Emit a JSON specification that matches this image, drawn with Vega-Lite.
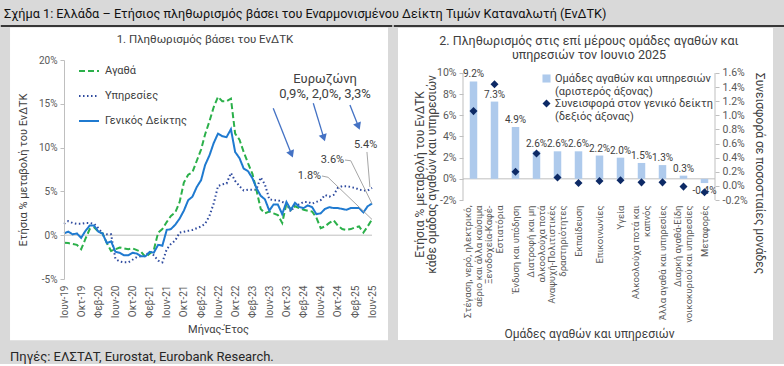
{
"$schema": "https://vega.github.io/schema/vega-lite/v6.json",
"background": "#d9d9d9",
"padding": {"left": 0, "top": 8, "right": 0, "bottom": 0},
"spacing": 0,
"resolve": {"scale": {"color": "independent", "shape": "independent", "strokeDash": "independent"}, "legend": {"color": "independent", "shape": "independent", "strokeDash": "independent"}},
"title": {"text": "Σχήμα 1: Ελλάδα – Ετήσιος πληθωρισμός βάσει του Εναρμονισμένου Δείκτη Τιμών Καταναλωτή (ΕνΔΤΚ)", "anchor": "start", "fontSize": 12.7, "fontWeight": "normal", "color": "#111111", "offset": 4.5, "dx": 4},
"config": {
  "font": "Roboto",
  "view": {"stroke": null},
  "axis": {"grid": false, "labelOverlap": false, "labelSeparation": 0, "domainColor": "#bfbfbf", "tickColor": "#bfbfbf", "labelColor": "#595959", "titleColor": "#404040", "labelFontSize": 10, "titleFontWeight": "normal", "titleFontSize": 11},
  "legend": {"labelColor": "#404040"},
  "locale": {"number": {"decimal": ".", "thousands": ",", "grouping": [3], "currency": ["", ""], "minus": "-"}}
},
"datasets": {
"hicp": [
{"date":"2019-06","series":"Υπηρεσίες","value":1.3},{"date":"2019-07","series":"Υπηρεσίες","value":1.6},{"date":"2019-08","series":"Υπηρεσίες","value":1.4},{"date":"2019-09","series":"Υπηρεσίες","value":1.3},{"date":"2019-10","series":"Υπηρεσίες","value":1.3},{"date":"2019-11","series":"Υπηρεσίες","value":1.4},{"date":"2019-12","series":"Υπηρεσίες","value":1.4},
{"date":"2020-01","series":"Υπηρεσίες","value":1.3},{"date":"2020-02","series":"Υπηρεσίες","value":0.8},{"date":"2020-03","series":"Υπηρεσίες","value":0.2},{"date":"2020-04","series":"Υπηρεσίες","value":0.1},{"date":"2020-05","series":"Υπηρεσίες","value":0.1},{"date":"2020-06","series":"Υπηρεσίες","value":-2.7},{"date":"2020-07","series":"Υπηρεσίες","value":-3.0},{"date":"2020-08","series":"Υπηρεσίες","value":-3.1},{"date":"2020-09","series":"Υπηρεσίες","value":-3.1},{"date":"2020-10","series":"Υπηρεσίες","value":-2.8},{"date":"2020-11","series":"Υπηρεσίες","value":-2.5},{"date":"2020-12","series":"Υπηρεσίες","value":-2.4},
{"date":"2021-01","series":"Υπηρεσίες","value":-2.3},{"date":"2021-02","series":"Υπηρεσίες","value":-1.9},{"date":"2021-03","series":"Υπηρεσίες","value":-2.3},{"date":"2021-04","series":"Υπηρεσίες","value":-2.9},{"date":"2021-05","series":"Υπηρεσίες","value":-3.1},{"date":"2021-06","series":"Υπηρεσίες","value":-1.6},{"date":"2021-07","series":"Υπηρεσίες","value":-1.0},{"date":"2021-08","series":"Υπηρεσίες","value":-0.6},{"date":"2021-09","series":"Υπηρεσίες","value":0.3},{"date":"2021-10","series":"Υπηρεσίες","value":0.4},{"date":"2021-11","series":"Υπηρεσίες","value":0.5},{"date":"2021-12","series":"Υπηρεσίες","value":0.6},
{"date":"2022-01","series":"Υπηρεσίες","value":0.8},{"date":"2022-02","series":"Υπηρεσίες","value":1.0},{"date":"2022-03","series":"Υπηρεσίες","value":1.3},{"date":"2022-04","series":"Υπηρεσίες","value":2.2},{"date":"2022-05","series":"Υπηρεσίες","value":3.6},{"date":"2022-06","series":"Υπηρεσίες","value":5.6},{"date":"2022-07","series":"Υπηρεσίες","value":5.8},{"date":"2022-08","series":"Υπηρεσίες","value":5.9},{"date":"2022-09","series":"Υπηρεσίες","value":7.1},{"date":"2022-10","series":"Υπηρεσίες","value":6.2},{"date":"2022-11","series":"Υπηρεσίες","value":5.6},{"date":"2022-12","series":"Υπηρεσίες","value":5.1},
{"date":"2023-01","series":"Υπηρεσίες","value":5.2},{"date":"2023-02","series":"Υπηρεσίες","value":5.2},{"date":"2023-03","series":"Υπηρεσίες","value":5.2},{"date":"2023-04","series":"Υπηρεσίες","value":6.6},{"date":"2023-05","series":"Υπηρεσίες","value":5.8},{"date":"2023-06","series":"Υπηρεσίες","value":4.1},{"date":"2023-07","series":"Υπηρεσίες","value":4.0},{"date":"2023-08","series":"Υπηρεσίες","value":4.0},{"date":"2023-09","series":"Υπηρεσίες","value":3.8},{"date":"2023-10","series":"Υπηρεσίες","value":3.6},{"date":"2023-11","series":"Υπηρεσίες","value":2.7},{"date":"2023-12","series":"Υπηρεσίες","value":3.4},
{"date":"2024-01","series":"Υπηρεσίες","value":3.5},{"date":"2024-02","series":"Υπηρεσίες","value":3.8},{"date":"2024-03","series":"Υπηρεσίες","value":3.8},{"date":"2024-04","series":"Υπηρεσίες","value":3.6},{"date":"2024-05","series":"Υπηρεσίες","value":3.8},{"date":"2024-06","series":"Υπηρεσίες","value":4.0},{"date":"2024-07","series":"Υπηρεσίες","value":4.6},{"date":"2024-08","series":"Υπηρεσίες","value":4.4},{"date":"2024-09","series":"Υπηρεσίες","value":4.6},{"date":"2024-10","series":"Υπηρεσίες","value":5.4},{"date":"2024-11","series":"Υπηρεσίες","value":5.6},{"date":"2024-12","series":"Υπηρεσίες","value":5.6},
{"date":"2025-01","series":"Υπηρεσίες","value":5.5},{"date":"2025-02","series":"Υπηρεσίες","value":5.4},{"date":"2025-03","series":"Υπηρεσίες","value":5.2},{"date":"2025-04","series":"Υπηρεσίες","value":5.1},{"date":"2025-05","series":"Υπηρεσίες","value":5.1},{"date":"2025-06","series":"Υπηρεσίες","value":5.4},
{"date":"2019-06","series":"Αγαθά","value":-0.85},{"date":"2019-07","series":"Αγαθά","value":-0.9},{"date":"2019-08","series":"Αγαθά","value":-1.0},{"date":"2019-09","series":"Αγαθά","value":-1.1},{"date":"2019-10","series":"Αγαθά","value":-1.6},{"date":"2019-11","series":"Αγαθά","value":-0.4},{"date":"2019-12","series":"Αγαθά","value":0.7},
{"date":"2020-01","series":"Αγαθά","value":0.9},{"date":"2020-02","series":"Αγαθά","value":0.4},{"date":"2020-03","series":"Αγαθά","value":0.2},{"date":"2020-04","series":"Αγαθά","value":-0.9},{"date":"2020-05","series":"Αγαθά","value":-1.8},{"date":"2020-06","series":"Αγαθά","value":-1.6},{"date":"2020-07","series":"Αγαθά","value":-1.4},{"date":"2020-08","series":"Αγαθά","value":-1.5},{"date":"2020-09","series":"Αγαθά","value":-1.6},{"date":"2020-10","series":"Αγαθά","value":-1.5},{"date":"2020-11","series":"Αγαθά","value":-1.7},{"date":"2020-12","series":"Αγαθά","value":-1.9},
{"date":"2021-01","series":"Αγαθά","value":-2.5},{"date":"2021-02","series":"Αγαθά","value":-2.1},{"date":"2021-03","series":"Αγαθά","value":-1.7},{"date":"2021-04","series":"Αγαθά","value":0.3},{"date":"2021-05","series":"Αγαθά","value":0.7},{"date":"2021-06","series":"Αγαθά","value":1.5},{"date":"2021-07","series":"Αγαθά","value":2.2},{"date":"2021-08","series":"Αγαθά","value":2.6},{"date":"2021-09","series":"Αγαθά","value":3.8},{"date":"2021-10","series":"Αγαθά","value":6.0},{"date":"2021-11","series":"Αγαθά","value":6.9},{"date":"2021-12","series":"Αγαθά","value":7.2},
{"date":"2022-01","series":"Αγαθά","value":8.5},{"date":"2022-02","series":"Αγαθά","value":9.8},{"date":"2022-03","series":"Αγαθά","value":11.5},{"date":"2022-04","series":"Αγαθά","value":13.0},{"date":"2022-05","series":"Αγαθά","value":14.6},{"date":"2022-06","series":"Αγαθά","value":15.8},{"date":"2022-07","series":"Αγαθά","value":15.3},{"date":"2022-08","series":"Αγαθά","value":15.3},{"date":"2022-09","series":"Αγαθά","value":15.6},{"date":"2022-10","series":"Αγαθά","value":11.6},{"date":"2022-11","series":"Αγαθά","value":10.9},{"date":"2022-12","series":"Αγαθά","value":9.5},
{"date":"2023-01","series":"Αγαθά","value":8.2},{"date":"2023-02","series":"Αγαθά","value":7.0},{"date":"2023-03","series":"Αγαθά","value":5.2},{"date":"2023-04","series":"Αγαθά","value":3.0},{"date":"2023-05","series":"Αγαθά","value":2.5},{"date":"2023-06","series":"Αγαθά","value":2.7},{"date":"2023-07","series":"Αγαθά","value":2.5},{"date":"2023-08","series":"Αγαθά","value":2.3},{"date":"2023-09","series":"Αγαθά","value":1.4},{"date":"2023-10","series":"Αγαθά","value":3.6},{"date":"2023-11","series":"Αγαθά","value":2.9},{"date":"2023-12","series":"Αγαθά","value":3.3},
{"date":"2024-01","series":"Αγαθά","value":3.1},{"date":"2024-02","series":"Αγαθά","value":2.9},{"date":"2024-03","series":"Αγαθά","value":2.8},{"date":"2024-04","series":"Αγαθά","value":2.7},{"date":"2024-05","series":"Αγαθά","value":2.0},{"date":"2024-06","series":"Αγαθά","value":0.8},{"date":"2024-07","series":"Αγαθά","value":1.0},{"date":"2024-08","series":"Αγαθά","value":1.4},{"date":"2024-09","series":"Αγαθά","value":1.7},{"date":"2024-10","series":"Αγαθά","value":1.1},{"date":"2024-11","series":"Αγαθά","value":0.7},{"date":"2024-12","series":"Αγαθά","value":0.6},
{"date":"2025-01","series":"Αγαθά","value":0.7},{"date":"2025-02","series":"Αγαθά","value":0.9},{"date":"2025-03","series":"Αγαθά","value":1.0},{"date":"2025-04","series":"Αγαθά","value":0.3},{"date":"2025-05","series":"Αγαθά","value":1.0},{"date":"2025-06","series":"Αγαθά","value":1.8},
{"date":"2019-06","series":"Γενικός Δείκτης","value":0.2},{"date":"2019-07","series":"Γενικός Δείκτης","value":0.4},{"date":"2019-08","series":"Γενικός Δείκτης","value":0.1},{"date":"2019-09","series":"Γενικός Δείκτης","value":0.2},{"date":"2019-10","series":"Γενικός Δείκτης","value":-0.3},{"date":"2019-11","series":"Γενικός Δείκτης","value":0.5},{"date":"2019-12","series":"Γενικός Δείκτης","value":1.1},
{"date":"2020-01","series":"Γενικός Δείκτης","value":1.1},{"date":"2020-02","series":"Γενικός Δείκτης","value":0.4},{"date":"2020-03","series":"Γενικός Δείκτης","value":0.2},{"date":"2020-04","series":"Γενικός Δείκτης","value":-0.9},{"date":"2020-05","series":"Γενικός Δείκτης","value":-0.7},{"date":"2020-06","series":"Γενικός Δείκτης","value":-1.9},{"date":"2020-07","series":"Γενικός Δείκτης","value":-2.0},{"date":"2020-08","series":"Γενικός Δείκτης","value":-2.3},{"date":"2020-09","series":"Γενικός Δείκτης","value":-2.3},{"date":"2020-10","series":"Γενικός Δείκτης","value":-2.0},{"date":"2020-11","series":"Γενικός Δείκτης","value":-2.1},{"date":"2020-12","series":"Γενικός Δείκτης","value":-2.4},
{"date":"2021-01","series":"Γενικός Δείκτης","value":-2.4},{"date":"2021-02","series":"Γενικός Δείκτης","value":-1.9},{"date":"2021-03","series":"Γενικός Δείκτης","value":-2.0},{"date":"2021-04","series":"Γενικός Δείκτης","value":-1.1},{"date":"2021-05","series":"Γενικός Δείκτης","value":-1.2},{"date":"2021-06","series":"Γενικός Δείκτης","value":0.6},{"date":"2021-07","series":"Γενικός Δείκτης","value":0.7},{"date":"2021-08","series":"Γενικός Δείκτης","value":1.2},{"date":"2021-09","series":"Γενικός Δείκτης","value":1.9},{"date":"2021-10","series":"Γενικός Δείκτης","value":2.8},{"date":"2021-11","series":"Γενικός Δείκτης","value":4.0},{"date":"2021-12","series":"Γενικός Δείκτης","value":4.4},
{"date":"2022-01","series":"Γενικός Δείκτης","value":5.5},{"date":"2022-02","series":"Γενικός Δείκτης","value":6.3},{"date":"2022-03","series":"Γενικός Δείκτης","value":8.0},{"date":"2022-04","series":"Γενικός Δείκτης","value":9.1},{"date":"2022-05","series":"Γενικός Δείκτης","value":10.5},{"date":"2022-06","series":"Γενικός Δείκτης","value":11.6},{"date":"2022-07","series":"Γενικός Δείκτης","value":11.3},{"date":"2022-08","series":"Γενικός Δείκτης","value":11.2},{"date":"2022-09","series":"Γενικός Δείκτης","value":12.1},{"date":"2022-10","series":"Γενικός Δείκτης","value":9.5},{"date":"2022-11","series":"Γενικός Δείκτης","value":8.8},{"date":"2022-12","series":"Γενικός Δείκτης","value":7.6},
{"date":"2023-01","series":"Γενικός Δείκτης","value":7.3},{"date":"2023-02","series":"Γενικός Δείκτης","value":6.5},{"date":"2023-03","series":"Γενικός Δείκτης","value":5.4},{"date":"2023-04","series":"Γενικός Δείκτης","value":4.5},{"date":"2023-05","series":"Γενικός Δείκτης","value":4.1},{"date":"2023-06","series":"Γενικός Δείκτης","value":2.8},{"date":"2023-07","series":"Γενικός Δείκτης","value":3.5},{"date":"2023-08","series":"Γενικός Δείκτης","value":3.5},{"date":"2023-09","series":"Γενικός Δείκτης","value":2.4},{"date":"2023-10","series":"Γενικός Δείκτης","value":3.8},{"date":"2023-11","series":"Γενικός Δείκτης","value":2.9},{"date":"2023-12","series":"Γενικός Δείκτης","value":3.7},
{"date":"2024-01","series":"Γενικός Δείκτης","value":3.2},{"date":"2024-02","series":"Γενικός Δείκτης","value":3.1},{"date":"2024-03","series":"Γενικός Δείκτης","value":3.4},{"date":"2024-04","series":"Γενικός Δείκτης","value":3.2},{"date":"2024-05","series":"Γενικός Δείκτης","value":2.4},{"date":"2024-06","series":"Γενικός Δείκτης","value":2.5},{"date":"2024-07","series":"Γενικός Δείκτης","value":3.0},{"date":"2024-08","series":"Γενικός Δείκτης","value":3.2},{"date":"2024-09","series":"Γενικός Δείκτης","value":3.1},{"date":"2024-10","series":"Γενικός Δείκτης","value":3.1},{"date":"2024-11","series":"Γενικός Δείκτης","value":3.0},{"date":"2024-12","series":"Γενικός Δείκτης","value":2.9},
{"date":"2025-01","series":"Γενικός Δείκτης","value":3.1},{"date":"2025-02","series":"Γενικός Δείκτης","value":3.1},{"date":"2025-03","series":"Γενικός Δείκτης","value":3.1},{"date":"2025-04","series":"Γενικός Δείκτης","value":2.6},{"date":"2025-05","series":"Γενικός Δείκτης","value":3.3},{"date":"2025-06","series":"Γενικός Δείκτης","value":3.6}
],
"groups": [
{"group":"Στέγαση, νερό, ηλεκτρικό,|αέριο και άλλα καύσιμα","change":0.092,"contribution":0.0106},
{"group":"Ξενοδοχεία-Καφέ-|Εστιατόρια","change":0.073,"contribution":0.0144},
{"group":"Ένδυση και υπόδηση","change":0.049,"contribution":0.0020},
{"group":"Διατροφή και μη|αλκοολούχα ποτά","change":0.026,"contribution":0.0046},
{"group":"Αναψυχή-Πολιτιστικές|δραστηριότητες","change":0.026,"contribution":0.0012},
{"group":"Εκπαίδευση","change":0.026,"contribution":0.0004},
{"group":"Επικοινωνίες","change":0.022,"contribution":0.0007},
{"group":"Υγεία","change":0.020,"contribution":0.0008},
{"group":"Αλκοολούχα ποτά και|καπνός","change":0.015,"contribution":0.0005},
{"group":"Άλλα αγαθά και υπηρεσίες","change":0.013,"contribution":0.0005},
{"group":"Διαρκή αγαθά-Είδη|νοικοκυριού και υπηρεσίες","change":0.003,"contribution":-0.0001},
{"group":"Μεταφορές","change":-0.004,"contribution":-0.0009}
]
},
"hconcat": [
{
 "width": 308, "height": 219,
 "layer": [
  {"data": {"values": [{}]}, "mark": {"type": "rect", "color": "white"},
   "encoding": {"x": {"datum": 1526169600000, "type": "temporal"}, "x2": {"datum": 1758585600000}, "y": {"datum": 23.7, "type": "quantitative"}, "y2": {"datum": -12.0}}},
  {"data": {"values": [{}]}, "mark": {"type": "rule", "color": "black", "strokeWidth": 1.5},
   "encoding": {"x": {"datum": 1520467200000, "type": "temporal"}, "x2": {"datum": 1761177600000}, "y": {"datum": 23.88, "type": "quantitative"}}},
  {"data": {"values": [{}]}, "mark": {"type": "rule", "color": "#bfbfbf", "strokeWidth": 1},
   "encoding": {"y": {"datum": 0, "type": "quantitative"}}},
  {"data": {"name": "hicp"}, "mark": {"type": "line", "strokeWidth": 2},
   "encoding": {
    "x": {"field": "date", "type": "temporal", "scale": {"type": "utc", "domain": [1559347200000, 1748736000000], "nice": false},
      "axis": {"zindex": 1, "title": "Μήνας-Έτος", "tickCount": 40, "values": ["2019-06-01","2019-10-01","2020-02-01","2020-06-01","2020-10-01","2021-02-01","2021-06-01","2021-10-01","2022-02-01","2022-06-01","2022-10-01","2023-02-01","2023-06-01","2023-10-01","2024-02-01","2024-06-01","2024-10-01","2025-02-01","2025-06-01"],
        "labelExpr": "(utcmonth(datum.value) == 5 ? 'Ιουν' : utcmonth(datum.value) == 9 ? 'Οκτ' : 'Φεβ') + '-' + utcFormat(datum.value, '%y')",
        "labelAngle": -90, "labelAlign": "right", "labelBaseline": "middle", "domain": false, "ticks": false, "labelPadding": 6, "labelFlush": false, "labelOverlap": false, "labelSeparation": 0, "titlePadding": 6}},
    "y": {"field": "value", "type": "quantitative", "scale": {"domain": [-5, 20], "nice": false, "zero": false},
      "axis": {"zindex": 1, "title": "Ετήσια % μεταβολή του ΕνΔΤΚ", "tickCount": 20, "values": [-5, 0, 5, 10, 15, 20], "labelExpr": "datum.value + '%'", "tickSize": 4, "labelPadding": 3, "titlePadding": 10}},
    "color": {"field": "series", "type": "nominal", "scale": {"domain": ["Αγαθά", "Υπηρεσίες", "Γενικός Δείκτης"], "range": ["#2bb04a", "#2e4a9e", "#1f7ad0"]},
      "legend": {"title": null, "orient": "none", "legendX": 14, "legendY": 0, "symbolType": "stroke", "symbolStrokeWidth": 2, "symbolSize": 400, "labelFontSize": 11, "rowPadding": 9, "labelOffset": 5}},
    "strokeDash": {"field": "series", "type": "nominal", "scale": {"domain": ["Αγαθά", "Υπηρεσίες", "Γενικός Δείκτης"], "range": [[6, 3], [1.5, 2.5], [1, 0]]},
      "legend": {"title": null, "orient": "none", "legendX": 14, "legendY": 0, "symbolType": "stroke", "symbolStrokeWidth": 2, "symbolSize": 400, "labelFontSize": 11, "rowPadding": 9, "labelOffset": 5}}
   }},
  {"data": {"values": [{}]}, "mark": {"type": "text", "text": "1. Πληθωρισμός βάσει του ΕνΔΤΚ", "fontSize": 11.5, "color": "#404040", "align": "center", "baseline": "middle"},
   "encoding": {"x": {"datum": 1646006400000, "type": "temporal"}, "y": {"datum": 22.28, "type": "quantitative"}}},
  {"data": {"values": [{}]}, "mark": {"type": "text", "text": ["Ευρωζώνη", "0,9%, 2,0%, 3,3%"], "fontSize": 13, "lineHeight": 15, "color": "#404040", "align": "center", "baseline": "top"},
   "encoding": {"x": {"datum": 1719878400000, "type": "temporal"}, "y": {"datum": 18.5, "type": "quantitative"}}},
  {"data": {"values": [{}]}, "mark": {"type": "rule", "color": "#4472c4", "strokeWidth": 1.3},
   "encoding": {"x": {"datum": 1687996800000, "type": "temporal"}, "x2": {"datum": 1699228800000}, "y": {"datum": 14.49, "type": "quantitative"}, "y2": {"datum": 9.24}}},
  {"data": {"values": [{}]}, "mark": {"type": "point", "shape": "triangle-down", "filled": true, "color": "#4472c4", "opacity": 1, "size": 70, "angle": -22},
   "encoding": {"x": {"datum": 1699228800000, "type": "temporal"}, "y": {"datum": 9.24, "type": "quantitative"}}},
  {"data": {"values": [{}]}, "mark": {"type": "rule", "color": "#4472c4", "strokeWidth": 1.3},
   "encoding": {"x": {"datum": 1712620800000, "type": "temporal"}, "x2": {"datum": 1719100800000}, "y": {"datum": 15.06, "type": "quantitative"}, "y2": {"datum": 11.11}}},
  {"data": {"values": [{}]}, "mark": {"type": "point", "shape": "triangle-down", "filled": true, "color": "#4472c4", "opacity": 1, "size": 70, "angle": -18},
   "encoding": {"x": {"datum": 1719100800000, "type": "temporal"}, "y": {"datum": 11.11, "type": "quantitative"}}},
  {"data": {"values": [{}]}, "mark": {"type": "rule", "color": "#4472c4", "strokeWidth": 1.3},
   "encoding": {"x": {"datum": 1735171200000, "type": "temporal"}, "x2": {"datum": 1740355200000}, "y": {"datum": 14.86, "type": "quantitative"}, "y2": {"datum": 12.43}}},
  {"data": {"values": [{}]}, "mark": {"type": "point", "shape": "triangle-down", "filled": true, "color": "#4472c4", "opacity": 1, "size": 70, "angle": -22},
   "encoding": {"x": {"datum": 1740355200000, "type": "temporal"}, "y": {"datum": 12.43, "type": "quantitative"}}},
  {"data": {"values": [{}]}, "mark": {"type": "rule", "color": "#a6a6a6", "strokeWidth": 1},
   "encoding": {"x": {"datum": 1717977600000, "type": "temporal"}, "x2": {"datum": 1721692800000}, "y": {"datum": 6.76, "type": "quantitative"}, "y2": {"datum": 6.61}}},
  {"data": {"values": [{}]}, "mark": {"type": "rule", "color": "#a6a6a6", "strokeWidth": 1},
   "encoding": {"x": {"datum": 1721692800000, "type": "temporal"}, "x2": {"datum": 1748736000000}, "y": {"datum": 6.61, "type": "quantitative"}, "y2": {"datum": 1.8}}},
  {"data": {"values": [{}]}, "mark": {"type": "rule", "color": "#a6a6a6", "strokeWidth": 1},
   "encoding": {"x": {"datum": 1732147200000, "type": "temporal"}, "x2": {"datum": 1735689600000}, "y": {"datum": 8.58, "type": "quantitative"}, "y2": {"datum": 8.5}}},
  {"data": {"values": [{}]}, "mark": {"type": "rule", "color": "#a6a6a6", "strokeWidth": 1},
   "encoding": {"x": {"datum": 1735689600000, "type": "temporal"}, "x2": {"datum": 1748736000000}, "y": {"datum": 8.5, "type": "quantitative"}, "y2": {"datum": 3.6}}},
  {"data": {"values": [{}]}, "mark": {"type": "rule", "color": "#a6a6a6", "strokeWidth": 1},
   "encoding": {"x": {"datum": 1745625600000, "type": "temporal"}, "x2": {"datum": 1747440000000}, "y": {"datum": 9.5, "type": "quantitative"}, "y2": {"datum": 5.5}}},
  {"data": {"values": [{}]}, "mark": {"type": "text", "text": "1.8%", "fontSize": 11, "color": "#404040", "align": "center", "baseline": "middle"},
   "encoding": {"x": {"datum": 1710288000000, "type": "temporal"}, "y": {"datum": 6.76, "type": "quantitative"}}},
  {"data": {"values": [{}]}, "mark": {"type": "text", "text": "3.6%", "fontSize": 11, "color": "#404040", "align": "center", "baseline": "middle"},
   "encoding": {"x": {"datum": 1724457600000, "type": "temporal"}, "y": {"datum": 8.58, "type": "quantitative"}}},
  {"data": {"values": [{}]}, "mark": {"type": "text", "text": "5.4%", "fontSize": 11, "color": "#404040", "align": "center", "baseline": "middle"},
   "encoding": {"x": {"datum": 1744761600000, "type": "temporal"}, "y": {"datum": 10.3, "type": "quantitative"}}},
  {"data": {"values": [{}]}, "mark": {"type": "text", "text": "Πηγές: ΕΛΣΤΑΤ, Eurostat, Eurobank Research.", "fontSize": 13, "color": "#262626", "align": "left", "baseline": "middle"},
   "encoding": {"x": {"datum": 1526169600000, "type": "temporal"}, "y": {"datum": -13.9, "type": "quantitative"}}}
 ]
},
{
 "width": 252, "height": 140,
 "resolve": {"scale": {"x": "independent", "y": "independent"}},
 "layer": [
  {"data": {"values": [{}]},
   "layer": [
    {"mark": {"type": "rect", "color": "white"},
     "encoding": {"x": {"datum": -0.2579, "type": "quantitative", "scale": {"domain": [0, 1], "nice": false, "zero": false}, "axis": null}, "x2": {"datum": 1.2302},
       "y": {"datum": 0.14252, "type": "quantitative", "scale": {"domain": [-0.02, 0.112283], "nice": false, "zero": false}, "axis": null}, "y2": {"datum": -0.15229}}},
    {"mark": {"type": "rule", "color": "black", "strokeWidth": 1.5},
     "encoding": {"x": {"datum": -0.2747, "type": "quantitative"}, "x2": {"datum": 1.2738}, "y": {"datum": 0.14441, "type": "quantitative"}}},
    {"mark": {"type": "rule", "color": "#bfbfbf", "strokeWidth": 1},
     "encoding": {"x": {"datum": 0, "type": "quantitative"}, "y": {"datum": -0.02, "type": "quantitative"}, "y2": {"datum": 0.10}}},
    {"mark": {"type": "rule", "color": "#bfbfbf", "strokeWidth": 1},
     "encoding": {"x": {"datum": 1, "type": "quantitative"}, "y": {"datum": -0.02, "type": "quantitative"}, "y2": {"datum": 0.10}}},
    {"mark": {"type": "text", "text": ["2. Πληθωρισμός στις επί μέρους ομάδες αγαθών και", "υπηρεσιών τον Ιουνιο 2025"], "fontSize": 12.5, "lineHeight": 13.5, "color": "#404040", "align": "center", "baseline": "top"},
     "encoding": {"x": {"datum": 0.5, "type": "quantitative"}, "y": {"datum": 0.1359, "type": "quantitative"}}}
   ]},
  {"data": {"name": "groups"},
   "layer": [
    {"data": {"values": [{}]}, "mark": {"type": "rule", "color": "#bfbfbf", "strokeWidth": 1},
     "encoding": {"y": {"datum": 0, "type": "quantitative"}}},
    {"mark": {"type": "bar", "width": 7.5, "color": "#aecaec"},
     "encoding": {
      "x": {"field": "group", "type": "nominal", "sort": null,
        "axis": {"zindex": 1, "orient": "bottom", "title": "Ομάδες αγαθών και υπηρεσιών", "labelExpr": "split(datum.label, '|')", "labelAngle": -90, "labelAlign": "right", "labelBaseline": "middle",
          "labelOffset": {"condition": {"test": "indexof(datum.value, '|') >= 0", "value": -5.5}, "value": 0},
          "domain": false, "ticks": false, "labelPadding": 5, "labelFontSize": 9.5, "labelLineHeight": 11, "labelLimit": 0, "labelOverlap": false, "titleFontSize": 12, "titlePadding": 6}},
      "y": {"field": "change", "type": "quantitative", "scale": {"domain": [-0.02, 0.112283], "nice": false, "zero": false},
        "axis": {"zindex": 1, "orient": "left", "title": ["Ετήσια % μεταβολή του ΕνΔΤΚ", "κάθε ομάδας αγαθών και υπηρεσιών"], "tickCount": 20, "values": [-0.02, 0, 0.02, 0.04, 0.06, 0.08, 0.1], "format": ".0%", "domain": false, "tickSize": 4, "labelPadding": 3, "labelFontSize": 10.5, "labelOverlap": false, "titleFontSize": 12, "titleLineHeight": 12.5, "titleX": -44, "titleY": 114, "titleBaseline": "middle"}}
     }},
    {"transform": [{"filter": "datum.change >= 0"}], "mark": {"type": "text", "dy": -7, "fontSize": 10, "color": "#404040"},
     "encoding": {"x": {"field": "group", "type": "nominal", "sort": null}, "y": {"field": "change", "type": "quantitative"}, "text": {"field": "change", "type": "quantitative", "format": ".1%"}}},
    {"transform": [{"filter": "datum.change < 0"}], "mark": {"type": "text", "dy": 8, "fontSize": 10, "color": "#404040"},
     "encoding": {"x": {"field": "group", "type": "nominal", "sort": null}, "y": {"field": "change", "type": "quantitative"}, "text": {"field": "change", "type": "quantitative", "format": ".1%"}}}
   ]},
  {"data": {"name": "groups"},
   "mark": {"type": "point", "filled": true, "size": 65, "opacity": 1},
   "encoding": {
    "x": {"field": "group", "type": "nominal", "sort": null, "axis": null},
    "y": {"field": "contribution", "type": "quantitative", "scale": {"domain": [-0.002, 0.0178425], "nice": false, "zero": false},
      "axis": {"zindex": 1, "orient": "right", "title": "Συνεισφορά σε ποσοστιαίες μονάδες", "tickCount": 20, "values": [-0.002, 0, 0.002, 0.004, 0.006, 0.008, 0.01, 0.012, 0.014, 0.016], "format": ".1%", "domain": false, "tickSize": 4, "labelPadding": 3, "labelFontSize": 10.5, "labelOverlap": false, "titleFontSize": 12, "titlePadding": 5, "titleY": 113}},
    "color": {"datum": "Συνεισφορά στον γενικό δείκτη|(δεξιός άξονας)", "type": "nominal",
      "scale": {"domain": ["Ομάδες αγαθών και υπηρεσιών|(αριστερός άξονας)", "Συνεισφορά στον γενικό δείκτη|(δεξιός άξονας)"], "range": ["#aecaec", "#0d2a66"]},
      "legend": {"title": null, "orient": "none", "legendX": 78, "legendY": 13, "labelExpr": "split(datum.label, '|')", "labelFontSize": 11, "labelLineHeight": 13, "labelLimit": 0, "symbolSize": 65, "rowPadding": 0, "labelOffset": 3}},
    "shape": {"datum": "Συνεισφορά στον γενικό δείκτη|(δεξιός άξονας)", "type": "nominal",
      "scale": {"domain": ["Ομάδες αγαθών και υπηρεσιών|(αριστερός άξονας)", "Συνεισφορά στον γενικό δείκτη|(δεξιός άξονας)"], "range": ["square", "diamond"]},
      "legend": {"title": null, "orient": "none", "legendX": 78, "legendY": 13, "labelExpr": "split(datum.label, '|')", "labelFontSize": 11, "labelLineHeight": 13, "labelLimit": 0, "symbolSize": 65, "rowPadding": 0, "labelOffset": 3}}
   }}
 ]
}
]
}
